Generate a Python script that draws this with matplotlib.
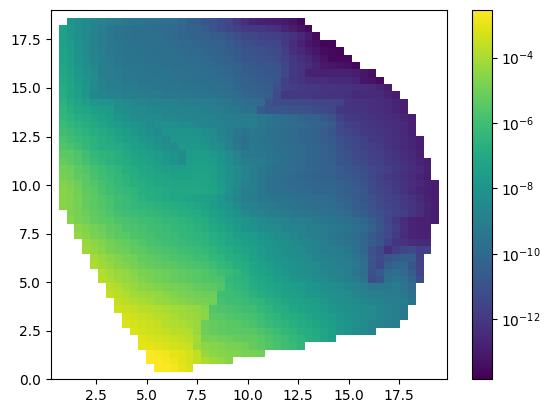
import matplotlib
matplotlib.use("Agg")
import matplotlib.pyplot as plt
import numpy as np
from matplotlib.colors import LogNorm

# negative log10 of the value, in tenths (85 means 10^-8.5)
# top row of the picture first, one list per row of cells
rows = [
    [80,82,84,87,89,91,92,93,94,95, 96,96,97,98,100,103,105,108,110,113, 115,119,124,127,128,129,130,131,133,136],
    [74,78,82,85,88,91,93,95,96,97, 98,98,99,99,100,101,102,103,105,108, 112,115,117,119,120,120,122,123,127,130, 133,136],
    [74,78,82,85,88,91,93,95,96,97, 97,98,98,99,100,101,102,103,104,105, 106,108,111,114,115,116,117,118,119,122, 126,130,135],
    [74,77,81,84,88,91,93,94,95,96, 96,97,97,98,99,100,100,101,102,103, 104,106,109,111,112,113,114,115,119,124, 128,132,134,137,137],
    [73,76,80,84,88,91,93,94,95,95, 96,96,97,97,98,99,100,100,101,102, 103,105,107,109,110,111,112,113,118,123, 126,129,132,135,136,137],
    [73,76,80,83,87,90,92,93,94,95, 95,96,96,97,97,98,99,99,100,101, 102,104,106,108,109,110,111,112,116,120, 123,126,130,133,136,136,136],
    [72,75,79,82,86,90,92,93,94,94, 95,95,96,96,97,97,98,98,99,100, 101,102,104,106,107,108,109,110,115,119, 122,124,127,131,132,133,134,136],
    [71,74,78,81,85,90,91,92,93,94, 94,95,95,95,96,96,97,97,98,99, 100,101,103,105,106,107,108,109,114,119, 121,128,128,128,128,128,128,130,132,134],
    [70,73,77,80,85,89,91,92,93,93, 94,94,94,95,95,96,96,97,97,98, 99,100,102,104,105,106,107,108,117,120, 121,123,124,124,125,125,125,127,132,133, 135],
    [69,72,76,79,84,89,90,91,92,92, 93,93,94,94,94,95,95,96,96,97, 98,99,101,103,104,105,106,111,117,118, 119,120,120,121,121,122,122,123,124,125, 127,130],
    [68,72,75,79,86,87,88,89,90,90, 91,92,92,93,93,93,94,94,95,95, 96,97,99,101,102,103,105,113,120,120, 120,120,121,121,122,122,123,125,125,125, 125,128,130],
    [66,70,73,76,78,79,80,83,85,86, 87,88,88,89,89,90,90,91,91,92, 93,94,96,98,99,100,110,112,112,113, 114,114,115,115,115,116,121,122,122,123, 124,125,127,129],
    [65,68,71,73,75,76,77,82,83,84, 85,86,86,87,88,88,89,89,90,91, 92,93,94,96,96,106,108,108,109,110, 110,111,112,113,115,120,121,122,122,123, 124,125,127,129],
    [64,66,68,70,72,74,76,79,81,83, 84,85,85,86,86,87,87,88,88,89, 90,91,92,92,92,93,95,97,99,100, 102,103,104,107,110,116,119,120,121,122, 123,124,125,127,129],
    [62,64,66,68,70,72,74,76,78,80, 81,85,82,82,83,84,85,86,87,88, 89,90,91,92,91,93,95,96,97,99, 100,101,102,104,107,113,117,118,120,121, 122,123,124,126,128],
    [60,62,64,66,68,70,72,74,76,78, 80,82,85,80,80,80,80,81,83,85, 88,90,93,95,93,94,96,97,99,100, 101,102,103,105,108,113,115,117,119,120, 121,122,124,126,128],
    [58,60,62,64,66,68,70,72,74,76, 78,80,82,85,79,79,79,79,81,84, 87,91,95,98,93,95,96,97,99,100, 101,102,103,105,107,111,113,115,117,119, 120,122,123,125,127,129],
    [56,58,60,63,66,68,69,70,72,74, 76,78,80,82,85,78,78,78,79,82, 85,89,93,97,93,94,95,97,98,99, 100,101,102,104,106,110,112,114,116,118, 119,121,123,125,127,129],
    [54,55,57,60,63,65,66,67,70,72, 74,75,77,79,81,84,77,76,76,78, 81,85,89,93,93,93,95,96,97,99, 100,101,102,103,105,109,111,113,115,117, 118,120,122,124,126,128],
    [52,54,56,59,62,64,66,67,69,71, 73,74,76,78,80,83,76,75,75,77, 80,83,87,90,92,92,94,95,97,99, 100,101,102,103,105,108,110,112,114,116, 117,119,121,123,125,127,129],
    [50,51,54,56,59,61,63,65,67,69, 71,72,74,75,76,76,75,74,74,75, 78,81,84,87,91,93,95,97,98,99, 100,101,102,103,104,106,108,110,112,114, 116,118,120,122,124,126,128],
    [49,50,53,55,58,60,62,64,66,68, 70,71,72,73,74,74,74,73,73,75, 78,81,84,87,91,93,96,98,99,100, 101,102,103,103,104,106,107,108,111,114, 117,119,121,123,125,127,129],
    [47,48,51,54,56,59,61,63,65,67, 68,70,71,72,72,72,72,72,73,74, 77,81,85,89,90,93,96,98,99,100, 100,101,101,102,102,104,105,107,110,113, 116,118,120,122,124,126,128,130],
    [46,47,50,53,55,58,60,62,63,65, 67,68,69,70,71,71,71,71,72,73, 76,81,86,90,90,93,96,97,98,99, 100,100,101,101,101,103,105,106,109,113, 115,117,119,122,125,127,129,130],
    [46,47,49,52,54,56,58,60,62,64, 66,68,69,70,71,72,73,74,75,76, 79,83,87,91,92,93,94,95,95,96, 97,98,99,99,100,102,104,106,108,111, 114,116,118,120,122,125,128,130],
    [46,47,49,52,54,56,58,61,62,63, 64,65,66,67,68,69,70,71,73,76, 78,80,84,88,89,91,92,93,94,95, 96,97,97,98,99,100,102,105,107,110, 113,115,117,119,121,124,127,129],
    [47,49,51,53,55,57,59,60,61, 62,63,64,65,66,67,68,69,71,74, 76,78,81,85,87,89,90,91,92,93, 94,95,95,96,97,98,100,103,105,108, 111,113,116,118,121,124,127,129],
    [46,48,50,52,54,55,57,58,59, 60,61,62,63,64,65,66,67,69,72, 74,76,78,80,82,84,86,87,89,90, 91,92,93,94,95,96,97,99,101,105, 110,115,120,124,127,128,128,129],
    [45,47,49,51,53,55,57,58, 59,60,61,62,63,64,65,66,67,70, 72,74,77,80,81,83,84,85,87,88, 89,90,91,92,93,94,95,97,100,103, 108,113,118,123,127,128,128],
    [44,46,48,50,52,54,55,57, 58,59,60,61,62,63,64,65,66,68, 70,72,75,76,77,79,81,83,85,86, 88,90,91,92,94,95,97,99,102,107, 111,114,119,124,127,128,128],
    [43,45,47,49,51,52,54, 56,58,59,60,61,62,63,64,65,67, 69,71,73,75,76,78,79,81,82,84, 86,87,89,91,93,94,96,98,101,106, 108,116,121,122,124,125,125],
    [42,44,46,48,50,51,53, 54,56,57,58,59,60,61,62,63,65, 67,69,71,73,75,77,79,80,82,83, 85,87,89,90,91,92,93,97,102,110, 114,123,118,115,113,118,116],
    [41,43,45,47,49,50, 52,53,55,56,57,58,59,60,61,64, 65,67,69,71,74,76,78,80,81,82, 84,85,87,89,90,91,92,94,100,109, 113,109,107,105,105,117],
    [40,42,44,46,47,49, 51,52,53,54,55,56,57,58,59,61, 63,65,67,69,72,74,76,78,80,81, 82,84,85,87,89,90,91,93,98,110, 114,105,102,101,108,116],
    [39,41,43,44,46, 48,49,50,51,52,53,54,55,56,58, 60,62,64,67,71,73,75,77,79,81, 82,83,85,86,88,89,91,94,98,111, 106,100,98,100,106,115],
    [38,40,42,44,45, 47,48,50,51,52,53,54,55,56,57, 58,63,65,66,69,71,73,75,77,79, 80,81,83,85,86,88,90,92,96,112, 109,97,94,96,102,112],
    [37,39,41,43, 45,46,47,48,49,50,51,52,53,54, 56,62,64,65,68,70,71,73,75,76, 77,79,80,82,83,85,87,88,91,93, 93,93,92,95,100],
    [36,37,39,41, 42,43,44,45,47,48,49,50,51,51, 60,61,62,63,66,68,70,72,74,75, 76,78,79,81,82,83,85,86,88,90, 91,92,92,93,98],
    [36,37,39, 40,41,43,44,45,46,47,48,49,50, 59,60,61,62,63,65,67,69,71,73, 74,75,76,78,81,82,83,84,86,87, 89,90,91,92,95],
    [34,35,36, 37,38,39,40,41,42,43,44,46,56, 57,58,59,60,61,63,65,67,69,71, 73,74,75,77,79,81,82,83,84,85, 87,89,90,93],
    [33,34, 35,36,37,38,40,41,42,43,45,54, 55,56,57,58,59,61,63,65,67,69, 70,72,74,75,77,79,81,82,84,85, 87,89,90,93],
    [32,33, 34,35,36,38,39,40,41,43,51,52, 53,54,55,56,58,60,62,64,65,67, 69,70,72,74,76,78,80,82,85,87, 89,91,92],
    [32, 33,34,35,36,37,38,39,43,51,52, 53,54,54,55,55,57,59,61,63,65, 67,68,70,72,75,78,80,83,85,87],
    [31,32,33,34,35,36,37,41,48,49, 50,51,52,53,53,55,57,59,61,63, 65,67,69,72,76],
    [30,30,31,32,33,34,35,42,45,46, 47,48,49,50,52,54,56,58,60,62, 65],
    [26,27,28,30,31,33,36,43,45,46,47,47,48,49,50],
    [26,26,27,29,31,33,36,40,42,44,46],
    [26,26,27,30,32],
]

# grid column of the first coloured cell in each row, same order as rows
first_col = [2, 1, 1, 1, 1, 1, 1, 1, 1, 1, 1, 1, 1, 1, 1, 1, 1, 1, 1, 1, 1, 1, 1, 1, 1, 1,
             2, 2, 3, 3, 4, 4, 5, 5, 6, 6, 7, 7, 8, 8, 9, 9, 10, 11, 11, 12, 12, 13]

cbar_ticks = [1e-12, 1e-10, 1e-8, 1e-6, 1e-4]

n_cells = 50
grid = np.full((n_cells, n_cells), np.nan)
for i in range(len(rows)):
    row_index = 48 - i
    start = first_col[i]
    grid[row_index, start:start + len(rows[i])] = 10.0 ** (-np.array(rows[i]) / 10)

x_edges = np.linspace(0.243, 19.88, n_cells + 1)
y_edges = np.linspace(0, 19, n_cells + 1)

fig = plt.figure(figsize=(5.49, 4.13), dpi=100)
ax = fig.add_axes([50.7 / 549, (413 - 379.2) / 413, 396.6 / 549, 368.9 / 413])
mesh = ax.pcolormesh(x_edges, y_edges, np.ma.masked_invalid(grid), cmap="viridis",
                     norm=LogNorm(vmin=10 ** -13.84, vmax=10 ** -2.55))
ax.set_xlim(0.243, 19.88)
ax.set_ylim(0, 19)
ax.set_xticks([2.5, 5.0, 7.5, 10.0, 12.5, 15.0, 17.5])
ax.set_yticks([0.0, 2.5, 5.0, 7.5, 10.0, 12.5, 15.0, 17.5])

cax = fig.add_axes([472.3 / 549, (413 - 379.2) / 413, 19.4 / 549, 368.9 / 413])
cbar = fig.colorbar(mesh, cax=cax)
cbar.set_ticks(cbar_ticks)
cbar.ax.minorticks_off()

plt.savefig("out.png", dpi=100)
